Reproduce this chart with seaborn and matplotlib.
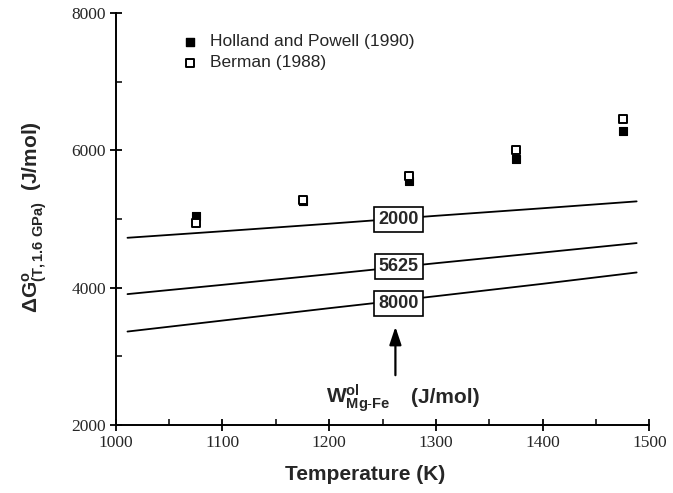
import matplotlib
matplotlib.use("Agg")
import matplotlib.pyplot as plt
import seaborn as sns
import pandas as pd
import numpy as np

# Data
temps = [1075, 1175, 1275, 1375, 1475]
holland_powell = [5035, 5260, 5550, 5875, 6280]
berman = [4935, 5275, 5620, 6005, 6450]

line_T = [1011, 1100, 1200, 1300, 1400, 1488]
w2000 = [4725, 4820, 4930, 5045, 5155, 5255]
w5625 = [3905, 4040, 4195, 4355, 4510, 4648]
w8000 = [3360, 3520, 3700, 3875, 4055, 4220]
line_labels = ["2000", "5625", "8000"]
label_T = 1265
label_y = [4990, 4305, 3765]

sns.set_theme(style="white")
plt.rcParams['font.family'] = ['Liberation Sans', 'DejaVu Sans']
plt.rcParams['mathtext.fontset'] = 'custom'
plt.rcParams['mathtext.rm'] = 'Liberation Sans'
plt.rcParams['mathtext.bf'] = 'Liberation Sans:bold'
plt.rcParams['mathtext.it'] = 'Liberation Sans:italic'

fig = plt.figure(figsize=(6.73, 4.93), dpi=100)
ax = fig.add_axes([0.172, 0.138, 0.793, 0.836])

lines_df = pd.concat([
    pd.DataFrame({"T": line_T, "G": w, "W": lab})
    for w, lab in zip([w2000, w5625, w8000], line_labels)
])
sns.lineplot(data=lines_df, x="T", y="G", units="W", estimator=None,
             color="black", lw=1.3, ax=ax, legend=False)

sns.scatterplot(x=temps, y=holland_powell, marker="s", s=30, color="black",
                edgecolor="black", linewidth=0.8, ax=ax, zorder=5)
sns.scatterplot(x=temps, y=berman, marker="s", s=30, facecolor="white",
                edgecolor="black", linewidth=1.4, ax=ax, zorder=6)

for lab, yv in zip(line_labels, label_y):
    ax.text(label_T, yv, lab, ha="center", va="center", fontsize=13,
            fontweight="bold", zorder=8,
            bbox=dict(boxstyle="square,pad=0.22", facecolor="white",
                      edgecolor="black", linewidth=1.2))

# Legend (manual, as in the reference)
ax.scatter([1070], [7578], marker="s", s=26, color="black", zorder=5)
ax.scatter([1070], [7272], marker="s", s=26, facecolor="white",
           edgecolor="black", linewidth=1.4, zorder=5)
ax.text(1088, 7578, "Holland and Powell (1990)", va="center", fontsize=12.5)
ax.text(1088, 7272, "Berman (1988)", va="center", fontsize=12.5)

# Arrow and annotation
ax.annotate("", xy=(1262, 3470), xytext=(1262, 2684),
            arrowprops=dict(arrowstyle="-|>,head_width=0.3,head_length=0.9",
                            color="black", lw=1.6))
ax.text(1197, 2395, r"$\mathbf{W^{ol}_{Mg\text{-}Fe}}$", fontsize=15,
        va="center", ha="left")
ax.text(1277, 2400, "(J/mol)", fontsize=15, fontweight="bold",
        va="center", ha="left")

ax.set_xlim(1000, 1500)
ax.set_ylim(2000, 8000)
ax.set_xticks([1000, 1100, 1200, 1300, 1400, 1500])
ax.set_xticks(np.arange(1050, 1500, 100), minor=True)
ax.set_yticks([2000, 4000, 6000, 8000])
ax.set_yticks([3000, 5000, 7000], minor=True)
for lbl in ax.get_xticklabels() + ax.get_yticklabels():
    lbl.set_fontfamily("Liberation Serif")
    lbl.set_fontsize(12.5)
ax.tick_params(which="major", direction="inout", length=8, width=1.3,
               color="black", bottom=True, left=True, pad=3)
ax.tick_params(which="minor", direction="in", length=4, width=1.1,
               color="black", bottom=True, left=True)

for side in ["top", "right"]:
    ax.spines[side].set_visible(False)
for side in ["left", "bottom"]:
    ax.spines[side].set_color("black")
    ax.spines[side].set_linewidth(1.4)

ax.set_xlabel("Temperature (K)", fontsize=15, fontweight="bold")
ax.xaxis.set_label_coords(0.468, -0.098)
ax.set_ylabel(r"$\mathbf{\Delta G^{o}_{(T,1.6\ GPa)}}$  (J/mol)", fontsize=15,
              fontweight="bold")
ax.yaxis.set_label_coords(-0.125, 0.505)

fig.savefig("out.png", dpi=100)
